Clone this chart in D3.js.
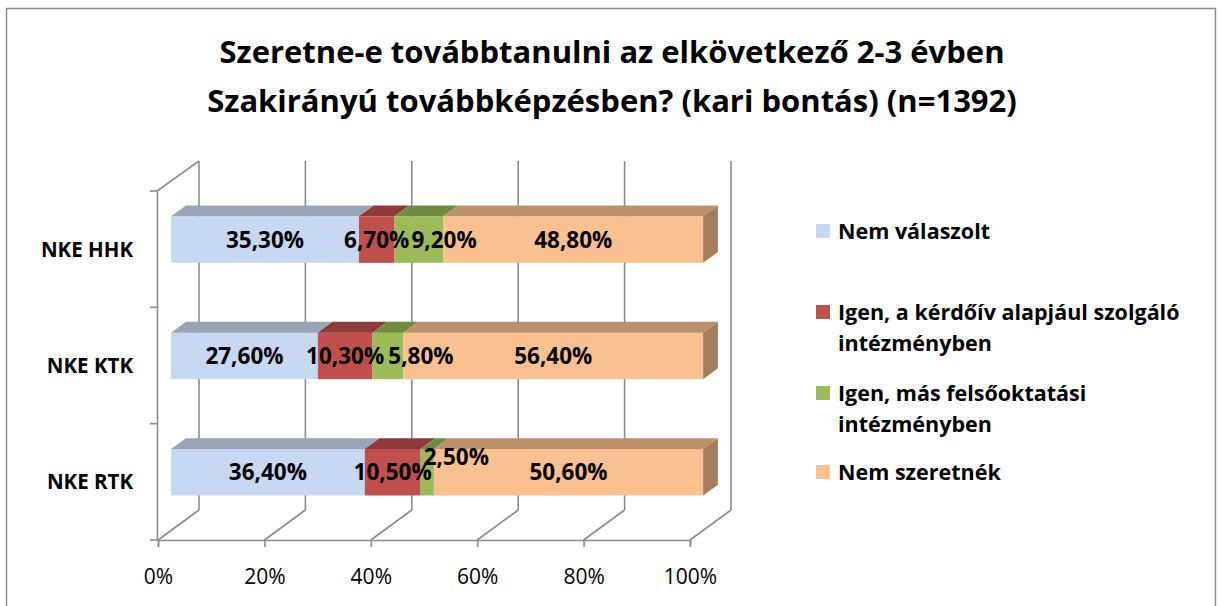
<!DOCTYPE html>
<html>
<head>
<meta charset="utf-8">
<script src="https://cdn.jsdelivr.net/npm/d3@7"></script>
<style>
  body { margin: 0; background: #fff; }
  text { font-family: "Open Sans", Lato, sans-serif; }
</style>
</head>
<body>
<div id="chart"></div>
<script>
// data
var categories = ["NKE HHK", "NKE KTK", "NKE RTK"];
var seriesNames = ["Nem válaszolt", "Igen, a kérdőív alapjául szolgáló intézményben", "Igen, más felsőoktatási intézményben", "Nem szeretnék"];
var nemValaszolt = [35.3, 27.6, 36.4];
var igenKerdoiv = [6.7, 10.3, 10.5];
var igenMas = [9.2, 5.8, 2.5];
var nemSzeretnek = [48.8, 56.4, 50.6];
var tickValues = [0, 20, 40, 60, 80, 100];
var titleLines = ["Szeretne-e továbbtanulni az elkövetkező 2-3 évben", "Szakirányú továbbképzésben? (kari bontás) (n=1392)"];

var series = [nemValaszolt, igenKerdoiv, igenMas, nemSzeretnek];
var frontColors = ["#C6D9F1", "#C0504D", "#9BBB59", "#FAC090"];
var topColors = ["#97A5B6", "#8E3A38", "#738B41", "#BC906B"];
var sideColors = ["#8896A6", "#7E3331", "#667B3A", "#A67D5C"];
var legendLines = [["Nem válaszolt"], ["Igen, a kérdőív alapjául szolgáló", "intézményben"], ["Igen, más felsőoktatási", "intézményben"], ["Nem szeretnék"]];
var legendY = [231, 312, 393, 472];
// manual label nudges for the small green segments [dx, dy]
var greenNudge = [[25, 0], [33, 0], [29, -15]];

var W = 1219, H = 606;
var DX = 41, DY = 30;           // depth of the 3d box
var d0 = 0.32, d1 = 0.68;       // bar depth within the box

var svg = d3.select("#chart").append("svg")
    .attr("width", W).attr("height", H);

// chart border
svg.append("rect")
    .attr("x", 6.5).attr("y", 8.5).attr("width", 1209).attr("height", 610)
    .attr("fill", "#fff").attr("stroke", "#8c8c8c").attr("stroke-width", 1.5);

// title
svg.append("g").selectAll("text")
    .data(titleLines).enter().append("text")
    .attr("x", 612).attr("y", function (d, i) { return 63 + i * 49; })
    .attr("text-anchor", "middle")
    .attr("font-size", 31).attr("font-weight", "bold")
    .text(function (d) { return d; });

var x = d3.scaleLinear().domain([0, 100]).range([158, 690]);
var y = d3.scaleBand().domain(categories).range([191, 540]);
var floorY = 540;

var grid = svg.append("g").attr("stroke", "#8c8c8c").attr("stroke-width", 1.6).attr("fill", "none");
// back wall gridlines
grid.selectAll(".back").data(tickValues).enter().append("line")
    .attr("x1", function (d) { return x(d) + DX; }).attr("x2", function (d) { return x(d) + DX; })
    .attr("y1", 191 - DY).attr("y2", floorY - DY);
// floor diagonals
grid.selectAll(".floor").data(tickValues).enter().append("line")
    .attr("x1", function (d) { return x(d); }).attr("x2", function (d) { return x(d) + DX; })
    .attr("y1", floorY).attr("y2", floorY - DY);
// left wall top edge
grid.append("line")
    .attr("x1", x(0) - 1).attr("y1", 191).attr("x2", x(0) + DX).attr("y2", 191 - DY);
// category tick marks at band edges
var edges = categories.map(function (c) { return y(c); }).concat([y.range()[1]]);
grid.selectAll(".ctick").data(edges).enter().append("line")
    .attr("x1", x(0) - 8).attr("x2", x(0) - 1)
    .attr("y1", function (d) { return d; }).attr("y2", function (d) { return d; });

// x axis (front floor edge)
var xAxis = svg.append("g")
    .attr("transform", "translate(0," + floorY + ")")
    .call(d3.axisBottom(x).tickValues(tickValues).tickSize(7).tickPadding(22)
        .tickFormat(function (d) { return d + "%"; }));
xAxis.select(".domain").attr("stroke", "#8c8c8c").attr("stroke-width", 1.6);
xAxis.selectAll(".tick line").attr("stroke", "#8c8c8c").attr("stroke-width", 1.6);
xAxis.selectAll("text").attr("font-size", 21).attr("fill", "#000")
    .style("font-family", "'Open Sans', sans-serif");

// y axis (front left edge)
var yAxis = svg.append("g")
    .attr("transform", "translate(" + (x(0) - 1) + ",0)")
    .call(d3.axisLeft(y).tickSize(0).tickPadding(24));
yAxis.select(".domain").attr("stroke", "#8c8c8c").attr("stroke-width", 1.6);
yAxis.selectAll("text").attr("font-size", 20.5).attr("font-weight", "bold").attr("fill", "#000")
    .attr("dy", "0.36em").style("font-family", "'Open Sans', sans-serif");

// bars
var barH = y.bandwidth() * 0.4;
var bars = svg.append("g");
categories.forEach(function (cat, ci) {
    var total = d3.sum(series, function (s) { return s[ci]; });
    var cy = y(cat) + y.bandwidth() / 2;
    var top0 = cy - barH / 2 - d0 * DY, bot0 = cy + barH / 2 - d0 * DY;
    var ddx = (d1 - d0) * DX, ddy = (d1 - d0) * DY;
    var acc = 0;
    var segs = series.map(function (s, si) {
        var v0 = acc / total * 100; acc += s[ci];
        var v1 = acc / total * 100;
        return { si: si, v: s[ci], x0: x(v0) + d0 * DX, x1: x(v1) + d0 * DX };
    });
    var g = bars.append("g");
    // front faces
    g.selectAll(".front").data(segs).enter().append("rect")
        .attr("x", function (d) { return d.x0; }).attr("y", top0)
        .attr("width", function (d) { return d.x1 - d.x0; }).attr("height", bot0 - top0)
        .attr("fill", function (d) { return frontColors[d.si]; });
    // top faces
    g.selectAll(".top").data(segs).enter().append("path")
        .attr("d", function (d) {
            return "M" + d.x0 + "," + top0 + "L" + d.x1 + "," + top0 +
                "L" + (d.x1 + ddx) + "," + (top0 - ddy) + "L" + (d.x0 + ddx) + "," + (top0 - ddy) + "Z";
        })
        .attr("fill", function (d) { return topColors[d.si]; });
    // right side of the last segment
    var last = segs[segs.length - 1];
    g.append("path")
        .attr("d", "M" + last.x1 + "," + top0 + "L" + (last.x1 + ddx) + "," + (top0 - ddy) +
            "L" + (last.x1 + ddx) + "," + (bot0 - ddy) + "L" + last.x1 + "," + bot0 + "Z")
        .attr("fill", sideColors[last.si]);
    // labels
    g.selectAll(".lbl").data(segs).enter().append("text")
        .attr("x", function (d) { return (d.x0 + d.x1) / 2 + (d.si === 2 ? greenNudge[ci][0] : 0); })
        .attr("y", function (d) { return (top0 + bot0) / 2 + (d.si === 2 ? greenNudge[ci][1] : 0); })
        .attr("dy", "0.36em")
        .attr("text-anchor", "middle")
        .attr("font-size", 22.5).attr("font-weight", "bold")
        .text(function (d) { return d3.format(".2f")(d.v).replace(".", ",") + "%"; });
});

// legend
var legend = svg.append("g").selectAll("g")
    .data(seriesNames).enter().append("g")
    .attr("transform", function (d, i) { return "translate(816," + legendY[i] + ")"; });
legend.append("rect")
    .attr("x", 0).attr("y", -7).attr("width", 14).attr("height", 14)
    .attr("fill", function (d, i) { return frontColors[i]; });
legend.append("text")
    .attr("font-size", 21.5).attr("font-weight", "bold")
    .selectAll("tspan")
    .data(function (d, i) { return legendLines[i]; }).enter().append("tspan")
    .attr("x", 22).attr("y", function (d, j) { return j * 31; })
    .attr("dy", "0.36em")
    .text(function (d) { return d; });
</script>
</body>
</html>
